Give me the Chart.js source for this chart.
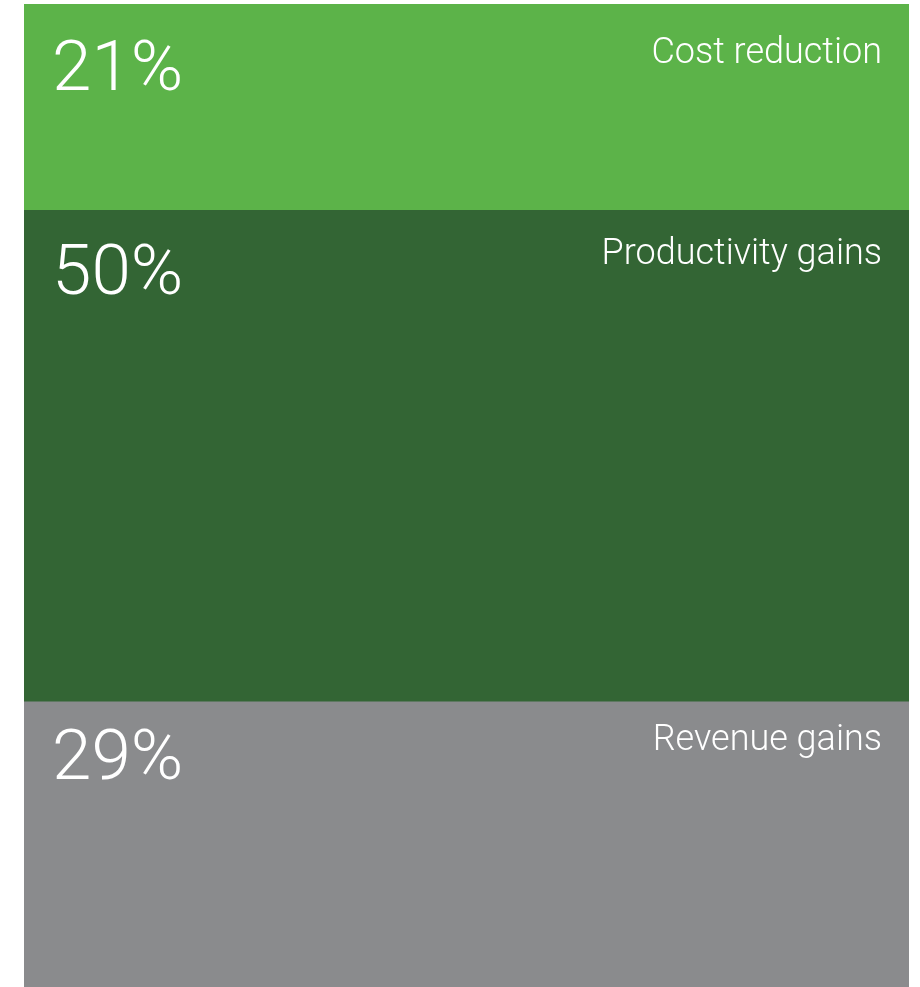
<!DOCTYPE html>
<html>
<head>
<meta charset="utf-8">
<title>Value breakdown</title>
<script src="https://cdn.jsdelivr.net/npm/chart.js@4/dist/chart.umd.min.js"></script>
<style>
    html, body { margin: 0; padding: 0; background: #fff; }
    #wrap { width: 920px; height: 987px; position: relative; }
</style>
</head>
<body>
<div id="wrap"><canvas id="breakdown"></canvas></div>
<script>
// stacked bottom-up: first entry is drawn at the bottom of the column
const segments = ['Revenue gains', 'Productivity gains', 'Cost reduction'];
const shares = [29, 50, 21];
const colors = ['#8a8b8d', '#336534', '#5cb349'];

// baseline offsets from each segment's top edge (value, name)
const textOffsets = [[77, 48], [84, 54], [86, 59]];

const segmentLabels = {
    id: 'segmentLabels',
    afterDatasetsDraw(chart) {
        const ctx = chart.ctx;
        ctx.save();
        ctx.fillStyle = '#fff';
        ctx.textBaseline = 'alphabetic';
        chart.data.datasets.forEach((ds, i) => {
            const bar = chart.getDatasetMeta(i).data[0];
            const top = Math.min(bar.y, bar.base);
            const left = bar.x - bar.width / 2;
            const right = bar.x + bar.width / 2;
            const [valueY, nameY] = textOffsets[i];

            ctx.font = '300 71px Roboto';
            ctx.textAlign = 'left';
            ctx.fillText(ds.data[0] + '%', left + 28, top + valueY);

            ctx.font = '300 36px Roboto';
            ctx.textAlign = 'right';
            ctx.fillText(ds.label, right - 27, top + nameY);
        });
        ctx.restore();
    }
};

new Chart(document.getElementById('breakdown'), {
    type: 'bar',
    data: {
        labels: [''],
        datasets: segments.map((name, i) => ({
            label: name,
            data: [shares[i]],
            backgroundColor: colors[i],
            borderWidth: 0,
            barPercentage: 1,
            categoryPercentage: 1,
        }))
    },
    options: {
        responsive: true,
        maintainAspectRatio: false,
        animation: false,
        layout: {
            padding: {left: 24, right: 11, top: 4, bottom: 0}
        },
        scales: {
            x: {stacked: true, display: false},
            y: {stacked: true, display: false, min: 0, max: 100}
        },
        plugins: {
            legend: {display: false},
            tooltip: {enabled: false}
        }
    },
    plugins: [segmentLabels]
});
</script>
</body>
</html>
